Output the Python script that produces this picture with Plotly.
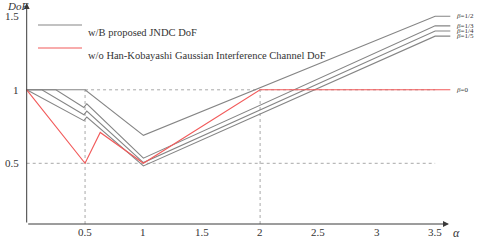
import plotly.graph_objects as go

# ---- data ----
alpha_b12 = [0, 0.5, 1, 3.5, 3.63]
dof_b12 = [1, 1, 0.69, 1.5, 1.5]

alpha_b13 = [0, 0.25, 0.49, 0.515, 1, 3.5, 3.63]
dof_b13 = [1, 1, 0.88, 0.905, 0.535, 1.435, 1.435]

alpha_b14 = [0, 0.13, 0.49, 0.515, 1, 3.5, 3.63]
dof_b14 = [1, 1, 0.83, 0.855, 0.505, 1.40, 1.40]

alpha_b15 = [0, 0.49, 0.515, 1, 3.5, 3.63]
dof_b15 = [1, 0.79, 0.815, 0.482, 1.365, 1.365]

alpha_hk = [0, 0.5, 0.63, 1, 2, 3.63]
dof_hk = [1, 0.5, 0.71, 0.5, 1, 1]

beta_labels = ["β =1/2", "β =1/3", "β =1/4", "β =1/5", "β =0"]
beta_label_y = [1.5, 1.435, 1.40, 1.365, 1.0]

x_ticks = [0.5, 1, 1.5, 2, 2.5, 3, 3.5]
x_tick_text = ["0.5", "1", "1.5", "2", "2.5", "3", "3.5"]
y_ticks = [0.5, 1, 1.5]
y_tick_text = ["0.5", "1", "1.5"]

legend_names = ["w/B proposed JNDC DoF",
                "w/o Han-Kobayashi Gaussian Interference Channel DoF"]

# ---- styling ----
GRAY = "#858585"
RED = "#f25a5a"
DOT = "#a8a8a8"
AX = "#3a3a3a"
FONT = "Liberation Serif"

W, H = 482, 240
x0px, xscale = 26.7, 116.7
y0px, yscale = 236.8, 147.0
xr = [-x0px / xscale, (W - x0px) / xscale]
yr = [(y0px - H) / yscale, y0px / yscale]
y_axis_at = (y0px - 224) / yscale
x_axis_end = (449 - x0px) / xscale
y_axis_end = (y0px - 3) / yscale

fig = go.Figure()

# dotted guide lines
guide = dict(color=DOT, width=1, dash="dot")
fig.add_trace(go.Scatter(x=[0.5, 3.5], y=[1, 1], mode="lines", line=guide, hoverinfo="skip"))
fig.add_trace(go.Scatter(x=[0, 3.5], y=[0.5, 0.5], mode="lines", line=guide, hoverinfo="skip"))
fig.add_trace(go.Scatter(x=[0.5, 0.5], y=[y_axis_at, 1], mode="lines", line=guide, hoverinfo="skip"))
fig.add_trace(go.Scatter(x=[2, 2], y=[y_axis_at, 1], mode="lines", line=guide, hoverinfo="skip"))

for a, d in [(alpha_b12, dof_b12), (alpha_b13, dof_b13), (alpha_b14, dof_b14), (alpha_b15, dof_b15)]:
    fig.add_trace(go.Scatter(x=a, y=d, mode="lines", line=dict(color=GRAY, width=1.1)))
fig.add_trace(go.Scatter(x=alpha_hk, y=dof_hk, mode="lines", line=dict(color=RED, width=1.1)))

ann = []
# axes with arrows
ann.append(dict(x=x_axis_end, y=y_axis_at, ax=0, ay=y_axis_at, xref="x", yref="y",
                axref="x", ayref="y", showarrow=True, arrowhead=2, arrowsize=1.2,
                arrowwidth=1, arrowcolor=AX, text=""))
ann.append(dict(x=0, y=y_axis_end, ax=0, ay=y_axis_at, xref="x", yref="y",
                axref="x", ayref="y", showarrow=True, arrowhead=2, arrowsize=1.2,
                arrowwidth=1, arrowcolor=AX, text=""))
for t, s in zip(x_ticks, x_tick_text):
    ann.append(dict(x=t, y=(y0px - 232) / yscale, text=s, showarrow=False, xref="x", yref="y",
                    font=dict(family=FONT, size=11, color="#333")))
for t, s in zip(y_ticks, y_tick_text):
    ann.append(dict(x=(21 - x0px) / xscale, y=t, text=s, showarrow=False, xref="x", yref="y",
                    xanchor="right", font=dict(family=FONT, size=11, color="#333")))
ann.append(dict(x=(5 - x0px) / xscale, y=(y0px - 6) / yscale, text="<i>DoF</i>", showarrow=False,
                xref="x", yref="y", xanchor="left", font=dict(family=FONT, size=11, color="#333")))
ann.append(dict(x=(451 - x0px) / xscale, y=(y0px - 233) / yscale, text="<i>α</i>", showarrow=False,
                xref="x", yref="y", xanchor="left", font=dict(family=FONT, size=12, color="#333")))
for s, yv in zip(beta_labels, beta_label_y):
    b, rest = s.split(" ", 1)
    ann.append(dict(x=3.66, y=yv, text="<i>" + b + "</i>" + rest, showarrow=False,
                    xref="x", yref="y", xanchor="left", font=dict(family=FONT, size=7, color="#333")))

# legend (drawn)
leg_y = [1 - 25 / H, 1 - 48 / H]
leg_col = [GRAY, RED]
shapes = []
for yy, c, name in zip(leg_y, leg_col, legend_names):
    shapes.append(dict(type="line", xref="paper", yref="paper", x0=38 / W, x1=82 / W, y0=yy, y1=yy,
                       line=dict(color=c, width=1.1)))
    ann.append(dict(x=86 / W, y=yy, xref="paper", yref="paper", text=name, showarrow=False,
                    xanchor="left", font=dict(family=FONT, size=10.5, color="#333")))

fig.update_layout(
    width=W, height=H, margin=dict(l=0, r=0, t=0, b=0),
    plot_bgcolor="white", paper_bgcolor="white", showlegend=False,
    xaxis=dict(range=xr, visible=False, fixedrange=True),
    yaxis=dict(range=yr, visible=False, fixedrange=True),
    annotations=ann, shapes=shapes,
)
fig.write_html("out.html", config={"displayModeBar": False},
               post_script="document.body.style.margin='0';document.body.style.overflow='hidden';")
